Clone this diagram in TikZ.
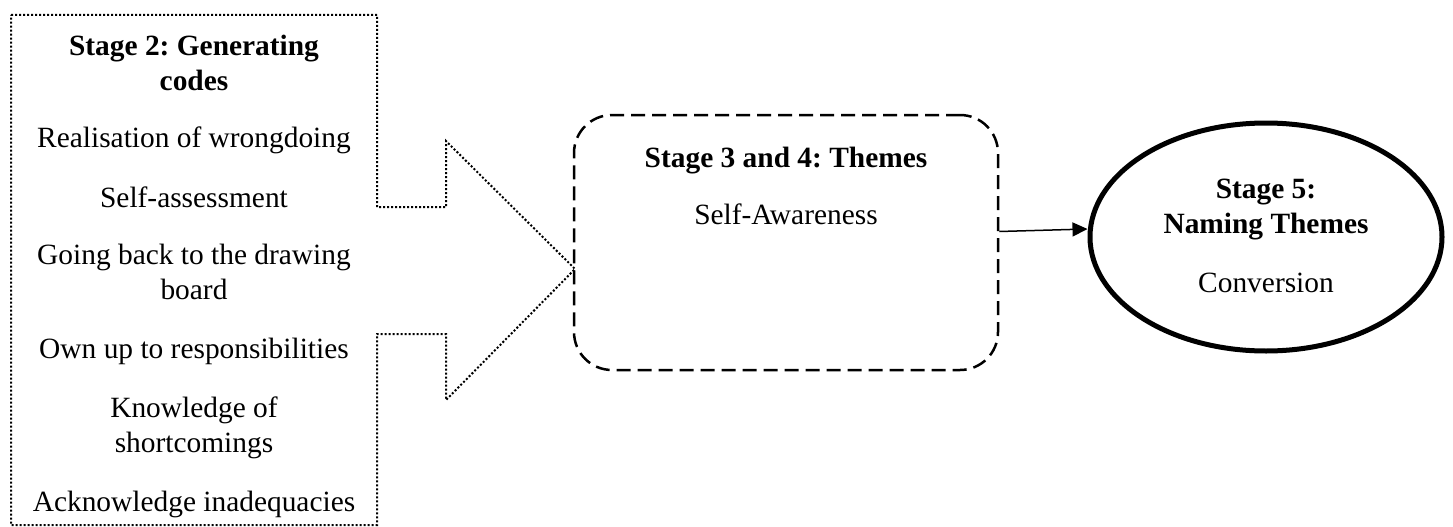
\documentclass[tikz,border=0pt]{standalone}
\usepackage{fontspec}
\setmainfont{Liberation Serif}
\frenchspacing
\usetikzlibrary{arrows.meta,shapes.geometric}
\tikzset {>={Triangle[length=15pt,width=14pt]}}
\tikzset{
  txt/.style={font=\fontsize{29.4}{34.5}\selectfont,inner sep=0pt,anchor=base,align=center},
  hd/.style={txt,font=\fontsize{29.4}{34.5}\selectfont\bfseries},
  dots/.style={line width=2pt,dash pattern=on 2pt off 2pt}
}

\begin{document}
\begin{tikzpicture}[x=1pt,y=-1pt]
\useasboundingbox (0,0) rectangle (1453,527);

% Stage 2 callout
\coordinate (TL) at (11,15);
\coordinate (TR) at (377,15);
\coordinate (BR) at (377,525);
\coordinate (BL) at (11,525);
\coordinate (Tip) at (575,269);
\draw[dots] (TL) -- (TR) -- (377,207) -- (446,207) -- (446,141)
  -- (Tip) -- (446,400) -- (446,334) -- (377,334) -- (BR) -- (BL) -- cycle;

% base of a two-line node = its last line
\node[hd]  (s2)   at (194,90)  {Stage 2: Generating\\codes};
\node[txt] (c1)   at (194,147) {Realisation of wrongdoing};
\node[txt] (c2)   at (194,207) {Self-assessment};
\node[txt] (c3)   at (194,299) {Going back to the drawing\\board};
\node[txt] (c4)   at (194,358) {Own up to responsibilities};
\node[txt] (c5)   at (194,452) {Knowledge of\\shortcomings};
\node[txt] (c6)   at (194,511) {Acknowledge inadequacies};

% Stage 3 and 4
\node[draw,line width=2.5pt,dash pattern=on 14pt off 7pt,rounded corners=38pt,
  minimum width=424pt,minimum height=255pt] (box) at (786,242.5) {};
\node[hd]  (s34)  at (786,167) {Stage 3 and 4: Themes};
\node[txt] (t1)   at (786,224) {Self-Awareness};

% Stage 5
\node[draw,ellipse,line width=5pt,minimum width=352pt,minimum height=228pt]
  (ell) at (1266,237) {};
\node[hd]  (s5)   at (1266,233) {Stage 5:\\Naming Themes};
\node[txt] (n1)   at (1266,292) {Conversion};

\draw[->,line width=1.5pt] ([yshift=11pt]box.east) -- ([yshift=8pt]ell.west);

\end{tikzpicture}
\end{document}
